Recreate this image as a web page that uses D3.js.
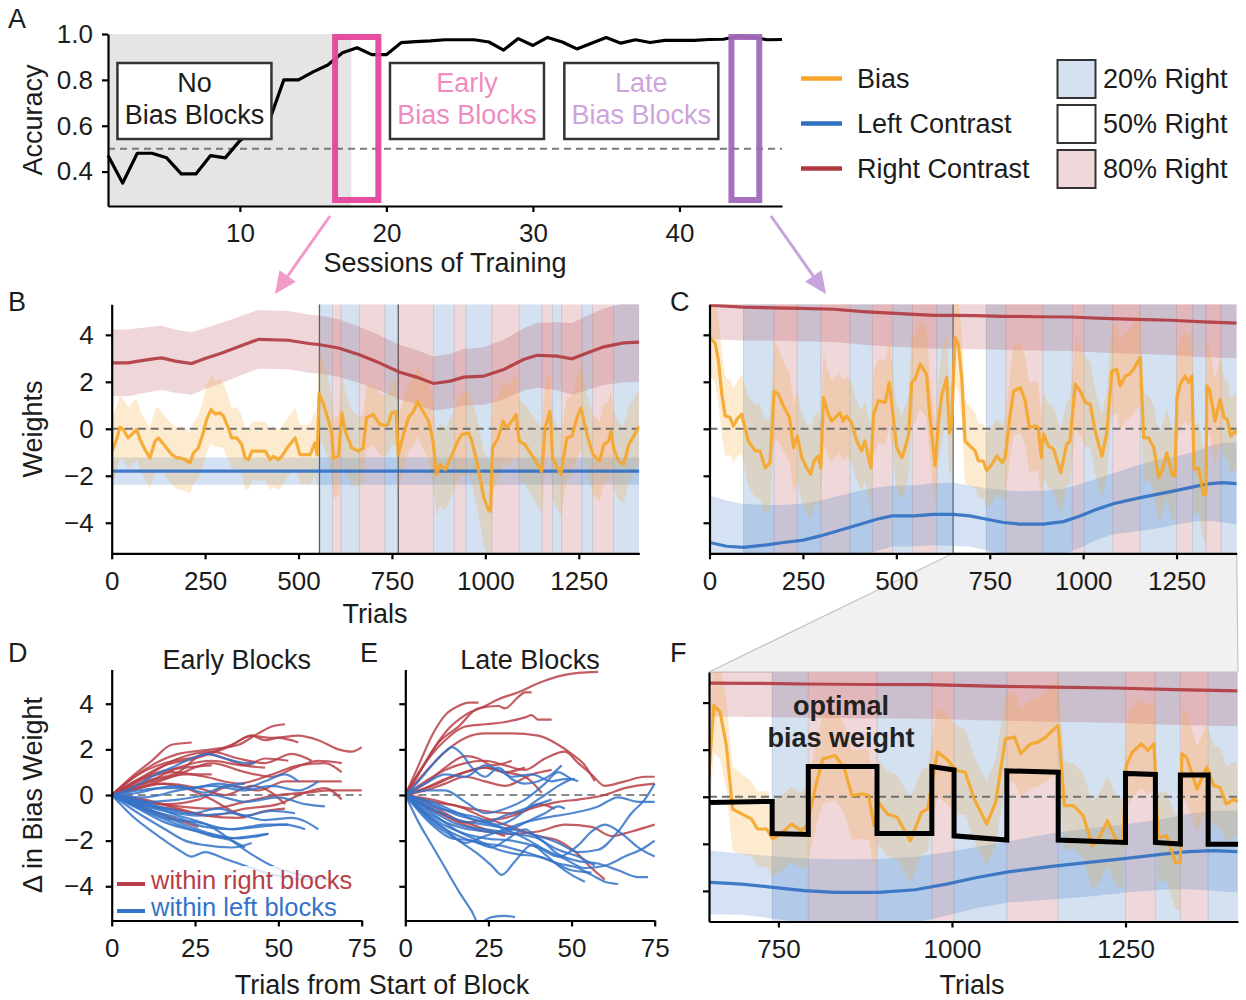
<!DOCTYPE html>
<html><head><meta charset="utf-8">
<script src="https://cdn.jsdelivr.net/npm/d3@7/dist/d3.min.js"></script>
<style>
html,body{margin:0;padding:0;background:#fff;}
svg text{font-family:"Liberation Sans",Arial,Helvetica,sans-serif;}
</style></head><body>
<svg id="chart" width="1246" height="1000"></svg>
<script>
// ================= DATA =================
// Panel A: accuracy per session
const sessions = [1,2,3,4,5,6,7,8,9,10,11,12,13,14,15,16,17,18,19,20,21,22,23,24,25,26,27,28,29,30,31,32,33,34,35,36,37,38,39,40,41,42,43,44,45,46,47];
const accuracy = [0.47,0.35,0.48,0.48,0.46,0.39,0.39,0.47,0.46,0.535,0.58,0.62,0.80,0.80,0.835,0.865,0.918,0.94,0.91,0.91,0.962,0.967,0.97,0.975,0.975,0.975,0.965,0.93,0.98,0.95,0.985,0.965,0.935,0.96,0.985,0.96,0.975,0.963,0.972,0.972,0.972,0.976,0.977,0.99,0.985,0.975,0.976];
const accTicksY = [0.4,0.6,0.8,1.0];
const accTicksX = [10,20,30,40];
const chanceLevel = 0.5;
const noBiasEnd = 17.6;
const earlyWindow = [16.5,19.45];
const lateWindow = [43.55,45.45];
const phaseLabels = [["No","Bias Blocks"],["Early","Bias Blocks"],["Late","Bias Blocks"]];
const phaseCenters = [6.9,25.5,37.4];
const lineLegend = ["Bias","Left Contrast","Right Contrast"];
const blockLegend = ["20% Right","50% Right","80% Right"];

// Panel B: weights (trial, mean, sd)
const biasB = [[0,-0.95,1.4],[13,-0.46,1.4],[22,0.07,1.35],[31,-0.03,1.3],[44,-0.39,1.3],[58,-0.17,1.35],[67,-0.03,1.3],[76,-0.46,1.25],[89,-0.88,1.25],[102,-1.24,1.3],[116,-0.53,1.35],[125,-0.39,1.3],[143,-0.74,1.25],[161,-1.1,1.3],[174,-1.24,1.3],[183,-1.24,1.35],[196,-1.31,1.35],[210,-1.45,1.3],[219,-1.02,1.3],[232,-0.81,1.35],[245,-0.17,1.4],[254,0.4,1.45],[266,0.82,1.45],[277,0.63,1.4],[290,0.68,1.45],[299,0.54,1.4],[312,0.04,1.35],[321,-0.39,1.3],[335,-0.39,1.3],[348,-0.67,1.25],[357,-1.24,1.3],[366,-1.31,1.3],[375,-0.95,1.25],[393,-0.95,1.25],[411,-0.95,1.25],[424,-1.31,1.3],[433,-1.17,1.3],[446,-1.31,1.3],[455,-1.17,1.25],[473,-0.74,1.25],[491,-0.39,1.3],[504,-1.1,1.25],[517,-1.1,1.25],[531,-1.1,1.3],[544,-0.6,1.35],[550,-1.1,1.4],[555,1.5,1.9],[566,1.08,1.8],[580,0.37,1.7],[589,-0.2,1.7],[593,-1.24,1.7],[607,-1.17,1.7],[616,0.68,1.75],[625,-0.1,1.7],[642,-0.81,1.6],[660,-0.95,1.5],[673,-0.81,1.4],[682,0.47,1.35],[700,0.61,1.3],[705,0.47,1.3],[718,0.19,1.3],[731,0.14,1.3],[740,0.19,1.3],[749,0.68,1.35],[761,0.72,1.4],[767,-1.1,1.6],[781,-0.24,1.5],[794,0.47,1.45],[808,0.75,1.45],[819,1.15,1.5],[830,0.82,1.55],[848,0.33,1.65],[860,-0.53,1.75],[869,-1.95,1.8],[879,-1.52,1.8],[893,-1.74,1.75],[911,-1.1,1.7],[926,-0.53,1.7],[937,-0.24,1.75],[955,-0.17,1.8],[964,-0.53,1.85],[978,-1.45,1.9],[996,-2.94,2.0],[1008,-3.44,2.1],[1014,-3.51,2.1],[1019,-0.81,1.9],[1034,-0.39,1.8],[1048,0.33,1.75],[1057,0.04,1.7],[1071,0.33,1.7],[1082,0.61,1.75],[1091,-0.53,1.7],[1106,-0.67,1.7],[1129,-1.24,1.75],[1151,-1.81,1.8],[1160,0.04,1.8],[1173,0.75,1.8],[1180,-1.24,1.75],[1202,-1.95,1.75],[1218,-0.39,1.7],[1232,-0.31,1.7],[1245,0.47,1.75],[1256,0.89,1.75],[1272,-0.24,1.7],[1288,-1.1,1.7],[1306,-1.38,1.7],[1317,-0.67,1.7],[1330,-0.53,1.7],[1336,-0.1,1.7],[1344,-0.88,1.65],[1357,-1.38,1.65],[1370,-1.52,1.65],[1384,-0.67,1.6],[1397,-0.31,1.6],[1412,0.11,1.6]];
const leftB = [[0,-1.8,0.58],[1412,-1.8,0.58]];
const rightB = [[0,2.81,1.42],[45,2.81,1.42],[71,2.88,1.4],[116,2.99,1.38],[134,3.02,1.37],[170,2.88,1.35],[214,2.78,1.33],[250,2.99,1.3],[295,3.23,1.28],[348,3.55,1.26],[393,3.81,1.25],[473,3.77,1.24],[527,3.63,1.24],[554,3.59,1.24],[607,3.44,1.22],[661,3.16,1.2],[706,2.88,1.18],[771,2.41,1.16],[816,2.2,1.15],[861,1.93,1.15],[906,2.03,1.17],[942,2.2,1.2],[995,2.24,1.23],[1049,2.52,1.27],[1102,2.95,1.32],[1138,3.13,1.38],[1192,3.09,1.45],[1232,2.98,1.52],[1272,3.23,1.58],[1317,3.49,1.63],[1370,3.66,1.68],[1412,3.69,1.7]];
const blocksB = [[556,591,"L"],[591,614,"R"],[614,663,"L"],[663,731,"R"],[731,767,"L"],[767,861,"R"],[861,917,"L"],[917,948,"R"],[948,1017,"L"],[1017,1091,"R"],[1091,1152,"L"],[1152,1180,"R"],[1180,1204,"L"],[1204,1259,"R"],[1259,1287,"L"],[1287,1343,"R"],[1343,1412,"L"]];
const sessionStartsB = [556,767];

// Panel C (and F): weights (trial, mean, sd)
const biasC = [[0,3.88,1.6],[15,3.66,1.7],[24,2.89,1.8],[33,1.47,1.8],[42,0.55,1.7],[55,0.48,1.6],[64,0.12,1.6],[73,0.4,1.6],[86,0.62,1.7],[95,0.05,1.8],[104,-0.52,1.9],[122,-0.94,2.0],[135,-0.94,2.0],[149,-1.66,2.0],[162,-1.44,2.0],[173,1.61,2.1],[184,1.47,2.0],[198,0.97,1.9],[214,0.48,1.9],[225,-0.8,1.9],[235,-0.31,1.9],[247,-1.23,1.9],[260,-1.66,1.9],[271,-1.94,1.9],[280,-1.37,1.9],[291,-1.16,1.9],[298,-1.66,1.9],[305,1.33,1.9],[318,0.62,1.8],[327,0.33,1.7],[341,0.55,1.7],[349,0.69,1.7],[358,0.33,1.7],[367,0.55,1.7],[380,0.26,1.7],[394,-0.52,1.7],[407,-0.94,1.7],[416,-0.52,1.7],[432,-1.66,1.8],[439,0.62,1.8],[452,1.19,1.8],[470,1.12,1.8],[481,1.97,1.9],[490,0.76,1.8],[501,-0.8,1.8],[515,-1.23,1.8],[524,-0.8,1.8],[533,-0.23,1.8],[541,1.97,1.9],[550,2.11,1.9],[564,2.75,1.9],[581,2.33,1.9],[590,0.48,1.8],[604,-1.58,1.8],[613,0.33,1.8],[622,1.47,1.9],[635,2.18,1.9],[642,-0.17,1.9],[648,0.19,1.9],[657,3.88,2.0],[666,3.6,2.0],[675,2.18,1.9],[684,-0.52,1.8],[697,-0.73,1.7],[711,-0.94,1.6],[720,-1.37,1.6],[733,-1.37,1.6],[742,-1.79,1.6],[756,-1.51,1.6],[769,-1.16,1.6],[783,-1.44,1.6],[791,-1.23,1.7],[805,0.62,1.8],[814,1.61,1.9],[832,1.75,1.9],[845,1.19,1.9],[856,0.05,1.9],[872,0.12,1.9],[880,0.05,1.9],[888,-1.23,1.8],[894,-0.23,1.8],[907,-0.73,1.8],[921,-0.87,1.8],[940,-1.87,1.8],[956,-0.66,1.8],[965,-0.52,1.8],[979,1.9,1.9],[992,1.61,1.9],[1006,1.12,1.9],[1019,1.05,1.8],[1032,-0.09,1.8],[1050,-1.16,1.8],[1063,-0.23,1.8],[1077,2.46,1.9],[1090,2.54,1.9],[1099,1.83,1.9],[1113,2.25,1.9],[1124,2.32,1.9],[1135,2.54,1.9],[1153,3.03,2.0],[1162,-0.38,1.9],[1175,-0.38,1.8],[1189,-0.8,1.8],[1202,-2.08,1.9],[1211,-1.8,1.9],[1224,-1.02,1.9],[1238,-1.94,1.9],[1246,-2.01,1.9],[1251,1.33,1.9],[1260,1.9,1.9],[1273,2.25,1.9],[1282,1.97,1.9],[1291,2.25,1.9],[1297,-1.73,1.9],[1309,-1.66,1.9],[1322,-2.79,2.0],[1329,-2.79,2.0],[1331,1.83,1.9],[1338,1.68,1.9],[1353,0.33,1.8],[1367,1.26,1.8],[1377,0.48,1.7],[1386,0.4,1.7],[1395,-0.31,1.6],[1407,-0.09,1.6],[1411,-0.23,1.6]];
const leftC = [[0,-4.84,2.0],[46,-5.0,1.95],[91,-5.05,1.85],[153,-4.94,1.7],[198,-4.84,1.6],[251,-4.74,1.55],[296,-4.56,1.5],[349,-4.32,1.48],[403,-4.06,1.42],[448,-3.85,1.35],[488,-3.71,1.3],[546,-3.71,1.3],[600,-3.64,1.32],[653,-3.64,1.35],[697,-3.71,1.3],[742,-3.85,1.32],[787,-3.99,1.38],[831,-4.06,1.4],[894,-4.06,1.42],[947,-3.95,1.4],[992,-3.71,1.35],[1036,-3.43,1.3],[1081,-3.19,1.3],[1144,-2.96,1.4],[1197,-2.79,1.45],[1251,-2.62,1.45],[1304,-2.44,1.5],[1340,-2.33,1.6],[1376,-2.29,1.7],[1411,-2.33,1.74]];
const rightC = [[0,5.26,1.45],[91,5.18,1.42],[171,5.15,1.4],[242,5.13,1.4],[332,5.09,1.4],[421,4.98,1.41],[510,4.9,1.42],[600,4.83,1.42],[653,4.83,1.42],[711,4.82,1.43],[787,4.79,1.43],[876,4.77,1.44],[965,4.76,1.45],[1054,4.7,1.46],[1144,4.66,1.47],[1233,4.62,1.48],[1322,4.55,1.5],[1411,4.5,1.5]];
const blocksC = [[91,173,"L"],[173,235,"R"],[235,298,"L"],[298,376,"R"],[376,436,"L"],[436,490,"R"],[490,543,"L"],[543,608,"R"],[608,652,"L"],[741,793,"L"],[793,892,"R"],[892,971,"L"],[971,1003,"R"],[1003,1079,"L"],[1079,1153,"R"],[1153,1250,"L"],[1250,1293,"R"],[1293,1329,"L"],[1329,1369,"R"],[1369,1412,"L"]];
const sessionStartsC = [652];
const weightTicksY = [-4,-2,0,2,4];
const trialTicks = [0,250,500,750,1000,1250];
const zoomTicks = [750,1000,1250];
// Panel F: optimal bias weight per block (start, end, value at start, value at end)
const optimalF = [[650,741,-0.24,-0.2],[741,793,-1.56,-1.6],[793,892,1.28,1.28],[892,971,-1.56,-1.56],[971,1003,1.28,1.14],[1003,1079,-1.66,-1.84],[1079,1153,1.1,1.04],[1153,1250,-1.84,-1.94],[1250,1293,0.99,0.95],[1293,1329,-1.94,-2.01],[1329,1369,0.92,0.92],[1369,1412,-2.02,-2.02]];

// Panels D/E: change in bias weight within blocks (trial from block start, delta)
const earlyRight = [
 [[0,0],[5,0.6],[12,1.3],[20,1.8],[30,2.0],[38,2.2],[44,2.7],[48,3.0],[52,3.1]],
 [[0,0],[6,0.8],[12,1.5],[18,2.2],[24,2.3]],
 [[0,0],[8,0.7],[16,1.3],[25,1.6],[35,2.1],[42,2.6],[46,2.4],[50,2.5],[56,2.3]],
 [[0,0],[8,0.9],[16,1.4],[26,1.7],[36,2.2],[42,2.6],[48,2.5],[56,2.6],[62,2.4],[68,2.0],[72,1.9],[75,2.1]],
 [[0,0],[6,0.5],[14,1.0],[22,1.2],[30,1.3]],
 [[0,0],[7,0.4],[15,0.7],[22,0.9],[30,0.9]],
 [[0,0],[10,0.5],[20,1.2],[30,1.5],[40,1.3],[46,1.6],[53,1.5]],
 [[0,0],[10,0.4],[20,0.9],[30,1.4],[40,1.0],[48,0.8],[55,1.2],[62,1.5],[69,1.4]],
 [[0,0],[8,0.6],[18,1.0],[28,0.8],[38,0.5],[48,0.9],[56,1.3],[64,1.4],[69,1.0]],
 [[0,0],[10,-0.3],[20,-0.5],[30,-0.6],[40,-0.3],[50,0.0],[58,0.1],[66,0.2],[75,0.2]],
 [[0,0],[10,-0.2],[20,-0.6],[30,-0.9],[40,-0.6],[50,-0.4],[58,0.1],[64,0.3],[69,-0.2]],
 [[0,0],[8,-0.5],[16,-0.9],[22,-1.2],[26,-1.4]],
 [[0,0],[8,0.3],[16,0.5],[26,0.3],[34,0.0],[42,0.4],[48,0.1],[52,-0.4]],
 [[0,0],[6,0.2],[14,0.5],[22,0.3],[30,-0.2],[36,-0.7],[40,-1.0]],
 [[0,0],[10,0.8],[20,1.6],[30,1.9],[38,1.6],[46,1.4],[54,1.8],[60,1.5]],
 [[0,0],[8,-0.2],[16,-0.4],[26,-0.2],[36,0.4],[44,0.2],[52,0.6],[62,0.6],[69,0.6]],
 [[0,0],[10,0.6],[20,1.0],[28,1.8],[34,1.6],[40,1.3],[46,1.2]],
 [[0,0],[8,-0.4],[18,-0.6],[28,-0.9],[38,-1.0],[46,-0.7],[52,-0.6]]
];
const earlyLeft = [
 [[0,0],[6,0.3],[12,0.8],[18,1.2],[24,1.6],[29,1.8],[34,1.6],[40,1.4],[43,1.4]],
 [[0,0],[8,0.2],[16,0.3],[24,0.3],[32,0.5],[40,0.3],[46,0.6],[52,0.9],[56,0.6]],
 [[0,0],[10,-0.1],[20,0.2],[30,0.4],[40,0.2],[48,0.4],[56,0.2],[62,0.6]],
 [[0,0],[10,-0.3],[20,-0.2],[30,0.0],[40,-0.3],[50,-0.1],[58,-0.4],[64,-0.5]],
 [[0,0],[8,-0.4],[16,-0.7],[26,-0.9],[36,-0.8],[46,-1.1],[54,-1.0],[62,-1.5]],
 [[0,0],[8,-0.5],[16,-1.0],[26,-1.2],[36,-1.5],[46,-1.3],[53,-1.3]],
 [[0,0],[8,-0.6],[16,-1.2],[26,-1.6],[36,-1.9],[42,-1.8],[47,-1.7]],
 [[0,0],[8,-0.8],[16,-1.5],[22,-2.0],[28,-2.2],[36,-2.3],[42,-2.1]],
 [[0,0],[6,-0.9],[14,-1.8],[20,-2.4],[24,-2.7],[28,-2.5],[34,-2.8],[40,-3.1],[46,-3.4],[52,-3.6],[58,-3.7],[62,-3.6]],
 [[0,0],[10,-0.4],[20,-0.9],[30,-1.4],[36,-2.0],[42,-2.6],[48,-3.1],[54,-3.4],[60,-3.6],[66,-3.7]],
 [[0,0],[8,-0.3],[16,-0.6],[24,-0.8],[32,-0.6],[40,-0.9],[48,-0.7],[55,-0.8]],
 [[0,0],[10,-0.6],[20,-1.0],[28,-1.4],[36,-1.5],[44,-1.4],[52,-1.3],[58,-1.5]],
 [[0,0],[6,-0.3],[14,-0.8],[22,-1.3],[30,-1.7],[38,-1.9],[44,-1.8],[47,-1.7]],
 [[0,0],[8,-0.2],[14,-0.5],[20,-0.7]],
 [[0,0],[8,0.1],[14,0.3],[20,0.4],[28,0.1],[34,0.4],[40,0.5]],
 [[0,0],[10,-0.7],[20,-1.3],[30,-1.8],[36,-2.0],[40,-2.3]]
];
const lateRight = [
 [[0,0],[4,0.9],[8,1.9],[13,2.9],[18,3.5],[24,3.9],[28,4.2],[34,4.5],[40,4.9],[46,5.2],[52,5.35],[58,5.4]],
 [[0,0],[4,1.3],[8,2.6],[12,3.5],[16,3.9],[19,4.05],[22,4.05]],
 [[0,0],[5,1.2],[10,2.3],[16,3.0],[22,3.8],[28,3.9],[30,3.8],[34,4.3],[36,4.5],[38,4.5]],
 [[0,0],[6,1.4],[12,2.4],[18,3.0],[24,3.1],[30,3.2],[36,3.4],[38,3.5],[40,3.3],[44,3.3]],
 [[0,0],[6,1.0],[12,1.9],[18,2.5],[24,2.7],[32,2.7],[40,2.6],[46,2.2],[50,1.8],[54,1.3],[57,0.6]],
 [[0,0],[6,0.6],[12,1.1],[18,1.4],[24,1.5],[30,1.3],[36,1.1],[42,1.6],[48,1.9],[52,1.4],[56,0.9],[60,0.4],[66,0.6],[72,0.8],[75,0.8]],
 [[0,0],[6,0.5],[12,1.2],[18,1.7],[22,1.6],[26,1.3],[32,1.5]],
 [[0,0],[6,0.3],[12,0.7],[18,1.0],[24,1.2],[30,1.0],[36,0.8],[41,0.1]],
 [[0,0],[8,-0.3],[16,-0.5],[24,-1.0],[32,-1.4],[40,-1.8],[46,-2.0],[52,-2.6],[56,-3.2],[60,-3.7]],
 [[0,0],[8,-0.6],[16,-1.2],[24,-1.6],[32,-1.7],[40,-1.6],[48,-1.3],[56,-1.4],[62,-1.8],[68,-1.6],[75,-1.3]],
 [[0,0],[8,-0.2],[16,-0.5],[24,-0.7],[32,-0.8],[40,-0.5],[46,-0.3],[52,-0.2],[60,0.0],[66,0.3],[75,0.5]],
 [[0,0],[6,0.2],[12,0.5],[18,0.8],[24,0.6],[30,0.4],[38,0.9],[44,1.1]],
 [[0,0],[6,-0.5],[12,-0.9],[20,-1.3],[26,-1.6],[30,-1.8]],
 [[0,0],[8,0.4],[16,0.9],[24,1.2],[30,1.0],[36,1.2]],
 [[0,0],[6,-0.3],[12,-0.8],[18,-1.2],[24,-1.1],[30,-1.0],[36,-0.7],[40,-0.4],[45,-0.6]]
];
const lateLeft = [
 [[0,0],[4,-1.2],[8,-2.2],[12,-3.2],[16,-4.2],[20,-5.1],[22,-5.6],[26,-5.35],[30,-5.3],[33,-5.35]],
 [[0,0],[4,0.6],[8,1.3],[12,1.9],[14,2.1],[17,1.8],[20,1.2],[24,0.8],[28,1.2],[32,0.7],[36,0.5],[40,0.6],[44,0.9],[47,1.3]],
 [[0,0],[6,0.5],[12,0.9],[18,0.8],[24,1.3],[28,1.1],[32,0.8],[38,0.9],[44,0.6],[48,0.7],[51,0.7]],
 [[0,0],[6,0.2],[12,0.2],[18,-0.3],[24,-0.8],[30,-0.6],[36,-0.2],[42,0.5],[46,1.0],[50,0.7],[52,0.6]],
 [[0,0],[8,-0.8],[16,-1.6],[22,-2.0],[28,-2.4],[34,-2.6],[40,-2.7],[46,-3.0],[52,-3.2],[56,-3.5],[60,-3.8],[64,-3.9]],
 [[0,0],[8,-1.2],[16,-2.0],[22,-2.6],[26,-3.1],[29,-3.5],[33,-2.9],[38,-2.2],[42,-2.6],[46,-3.1],[50,-3.5],[54,-3.8]],
 [[0,0],[8,-0.9],[16,-1.4],[24,-1.6],[32,-1.7],[40,-1.9],[46,-2.6],[52,-2.9],[58,-3.0],[64,-3.3],[70,-3.6],[73,-3.6]],
 [[0,0],[8,-0.6],[16,-1.1],[24,-1.3],[32,-1.5],[40,-1.8],[46,-2.1],[52,-2.5],[58,-2.4],[64,-1.6],[68,-0.8],[72,-0.2],[75,0.5]],
 [[0,0],[8,-0.7],[16,-1.3],[24,-1.5],[30,-1.6],[36,-1.2],[42,-0.8],[46,-0.5],[48,-0.6]],
 [[0,0],[8,-0.5],[16,-0.8],[22,-1.0],[28,-1.3],[34,-0.9],[38,-0.4],[42,0.0],[46,0.4],[50,0.7]],
 [[0,0],[8,-1.0],[16,-1.6],[24,-1.9],[32,-2.0],[40,-2.3],[46,-2.7],[52,-2.2],[56,-1.6],[60,-1.3],[66,-1.8],[70,-2.3],[75,-2.7]],
 [[0,0],[8,-0.4],[16,-0.9],[24,-1.2],[30,-1.5],[36,-1.9],[42,-2.4],[48,-2.8],[54,-3.2],[60,-3.1],[66,-2.7],[72,-2.3],[75,-2.0]],
 [[0,0],[8,-1.3],[14,-1.9],[20,-2.0],[26,-2.3],[30,-2.0],[36,-1.5],[40,-1.9],[46,-2.4],[52,-2.7],[57,-3.1]],
 [[0,0],[8,-0.3],[16,-0.8],[24,-1.2],[30,-0.9],[38,-0.5],[44,-0.2]],
 [[0,0],[6,-0.8],[12,-1.5],[18,-2.1],[24,-1.8],[30,-1.5],[36,-1.2],[42,-1.0],[50,-0.8],[58,-0.5],[64,-0.1],[70,-0.3],[75,-0.3]],
 [[0,0],[8,-1.1],[16,-1.8],[22,-2.1],[28,-2.2],[36,-2.5],[44,-2.9],[50,-3.3],[56,-3.4]]
];
const blockTrialTicks = [0,25,50,75];
const deltaTicks = [-4,-2,0,2,4];
const trajLegend = ["within right blocks","within left blocks"];

// ================= STYLE =================
const INK = "#1c1c1c";
const C_BIAS = "#f5a62a", C_LEFT = "#2f6fc2", C_RIGHT = "#b0393f";
const BLOCK_L = "#d4e1f1", BLOCK_R = "#efd7da";
const FS_TICK = 26, FS_LAB = 27;

const svg = d3.select("#chart");
const defs = svg.append("defs");

function text(g, x, y, s, o = {}) {
  return g.append("text").attr("x", x).attr("y", y).text(s)
    .attr("font-size", o.size || FS_LAB).attr("fill", o.fill || INK)
    .attr("text-anchor", o.anchor || "middle")
    .attr("font-weight", o.weight || "normal")
    .attr("transform", o.rotate ? `rotate(-90,${x},${y})` : null);
}
function styleAxis(sel) {
  sel.attr("font-family", null).attr("font-size", null);
  sel.select(".domain").attr("stroke", "#000").attr("stroke-width", 2.2);
  sel.selectAll(".tick line").attr("stroke", "#000").attr("stroke-width", 2.2);
  sel.selectAll(".tick text").attr("font-size", FS_TICK).attr("fill", INK);
}
function arrow(g, x1, y1, x2, y2, color) {
  const a = Math.atan2(y2 - y1, x2 - x1), L = 22, W = 10;
  const bx = x2 - L * Math.cos(a), by = y2 - L * Math.sin(a);
  g.append("line").attr("x1", x1).attr("y1", y1).attr("x2", bx).attr("y2", by)
    .attr("stroke", color).attr("stroke-width", 3);
  const px = -Math.sin(a) * W, py = Math.cos(a) * W;
  g.append("path").attr("d", `M${x2},${y2}L${bx + px},${by + py}L${bx - px},${by - py}Z`).attr("fill", color);
}
const intFmt = d3.format("d");

// ================= PANEL A =================
const xA = d3.scaleLinear().domain([1, 47]).range([108, 782]);
const yA = d3.scaleLinear().domain([0.25, 1.0]).range([206, 34]);
const gA = svg.append("g");
gA.append("rect").attr("x", xA(1)).attr("y", yA(1.0)).attr("width", xA(noBiasEnd) - xA(1))
  .attr("height", yA(0.25) - yA(1.0)).attr("fill", "#e5e5e5");
gA.append("line").attr("x1", xA(1)).attr("x2", xA(47)).attr("y1", yA(chanceLevel)).attr("y2", yA(chanceLevel))
  .attr("stroke", "#7a7a7a").attr("stroke-width", 2).attr("stroke-dasharray", "7,5");
gA.append("path").datum(sessions.map((s, i) => [s, accuracy[i]]))
  .attr("d", d3.line().x(d => xA(d[0])).y(d => yA(d[1])))
  .attr("fill", "none").attr("stroke", "#000").attr("stroke-width", 3.2).attr("stroke-linejoin", "round");
const phaseColors = [INK, "#f08bc2", "#cda4dc"];
phaseLabels.forEach((lab, i) => {
  const cx = xA(phaseCenters[i]);
  gA.append("rect").attr("x", cx - 77).attr("y", 63).attr("width", 154).attr("height", 76)
    .attr("fill", "#fff").attr("stroke", "#333").attr("stroke-width", 2.5);
  text(gA, cx, 92, lab[0], { fill: phaseColors[i] });
  text(gA, cx, 124, lab[1], { fill: phaseColors[i] });
});
[[earlyWindow, "#e5469a"], [lateWindow, "#a168bb"]].forEach(([w, c]) => {
  gA.append("rect").attr("x", xA(w[0])).attr("y", yA(1.0) + 3).attr("width", xA(w[1]) - xA(w[0]))
    .attr("height", 200 - (yA(1.0) + 3)).attr("fill", "none").attr("stroke", c).attr("stroke-width", 6).attr("opacity", 0.95);
});
styleAxis(gA.append("g").attr("transform", `translate(${xA(1)},0)`)
  .call(d3.axisLeft(yA).tickValues(accTicksY).tickFormat(d3.format(".1f")).tickSize(6).tickPadding(9).tickSizeOuter(0)));
styleAxis(gA.append("g").attr("transform", `translate(0,${yA(0.25)})`)
  .call(d3.axisBottom(xA).tickValues(accTicksX).tickFormat(intFmt).tickSize(6).tickPadding(12).tickSizeOuter(0)));
text(gA, 42, 120, "Accuracy", { rotate: true });
text(gA, 445, 272, "Sessions of Training");
text(svg, 8, 28, "A", { anchor: "start", size: 27 });
arrow(svg, 330, 216, 275, 294, "#f29bc9");
arrow(svg, 771, 216, 826, 294, "#c9a4dc");

const lg = svg.append("g");
[C_BIAS, C_LEFT, C_RIGHT].forEach((c, i) => {
  const y = 78.5 + i * 45;
  lg.append("line").attr("x1", 801).attr("x2", 842).attr("y1", y).attr("y2", y).attr("stroke", c).attr("stroke-width", 4.5);
  text(lg, 857, y + 9, lineLegend[i], { anchor: "start" });
});
[BLOCK_L, "#ffffff", BLOCK_R].forEach((c, i) => {
  const y = 60 + i * 45;
  lg.append("rect").attr("x", 1057.5).attr("y", y).attr("width", 38).attr("height", 38)
    .attr("fill", c).attr("stroke", "#333").attr("stroke-width", 2);
  text(lg, 1103, y + 28, blockLegend[i], { anchor: "start" });
});

// ================= WEIGHT PANELS =================
function weightPanel(p) {
  const g = svg.append("g");
  const [x0, x1] = p.x.range();
  const yb = p.y.range()[0], yt = p.y.range()[1];
  const id = "clip" + p.name;
  defs.append("clipPath").attr("id", id).append("rect")
    .attr("x", x0).attr("y", yt).attr("width", x1 - x0).attr("height", yb - yt);
  const gc = g.append("g").attr("clip-path", `url(#${id})`);
  gc.selectAll(null).data(p.blocks).join("rect")
    .attr("x", d => p.x(d[0])).attr("width", d => p.x(d[1]) - p.x(d[0]))
    .attr("y", yt).attr("height", yb - yt).attr("fill", d => d[2] === "L" ? BLOCK_L : BLOCK_R);
  gc.selectAll(null).data(p.blocks.map(d => d[0])).join("line")
    .attr("x1", d => p.x(d)).attr("x2", d => p.x(d)).attr("y1", yt).attr("y2", yb)
    .attr("stroke", "#55557a").attr("stroke-opacity", 0.2).attr("stroke-width", 1);
  gc.selectAll(null).data(p.sessions).join("line")
    .attr("x1", d => p.x(d)).attr("x2", d => p.x(d)).attr("y1", yt).attr("y2", yb)
    .attr("stroke", "#444").attr("stroke-opacity", 0.8).attr("stroke-width", 1.3);
  const band = d3.area().x(d => p.x(d[0])).y0(d => p.y(d[1] - d[2])).y1(d => p.y(d[1] + d[2]));
  const line = d3.line().x(d => p.x(d[0])).y(d => p.y(d[1]));
  gc.append("path").datum(p.right).attr("d", band).attr("fill", C_RIGHT).attr("fill-opacity", 0.2);
  gc.append("path").datum(p.left).attr("d", band).attr("fill", C_LEFT).attr("fill-opacity", 0.2);
  gc.append("path").datum(p.bias).attr("d", band).attr("fill", C_BIAS).attr("fill-opacity", 0.22);
  gc.append("line").attr("x1", x0).attr("x2", x1).attr("y1", p.y(0)).attr("y2", p.y(0))
    .attr("stroke", "#707070").attr("stroke-width", 2).attr("stroke-dasharray", "8,5");
  gc.append("path").datum(p.right).attr("d", line).attr("fill", "none").attr("stroke", C_RIGHT).attr("stroke-width", 3.2).attr("stroke-opacity", 0.9);
  gc.append("path").datum(p.left).attr("d", line).attr("fill", "none").attr("stroke", C_LEFT).attr("stroke-width", 3.2).attr("stroke-opacity", 0.9);
  gc.append("path").datum(p.bias).attr("d", line).attr("fill", "none").attr("stroke", C_BIAS).attr("stroke-width", 3.2).attr("stroke-opacity", 0.92).attr("stroke-linejoin", "round");
  if (p.optimal) {
    const pts = [];
    p.optimal.forEach(d => { pts.push([d[0], d[2]]); pts.push([d[1], d[3]]); });
    gc.append("path").datum(pts).attr("d", line).attr("fill", "none").attr("stroke", "#000")
      .attr("stroke-width", 5).attr("stroke-linejoin", "miter");
  }
  styleAxis(g.append("g").attr("transform", `translate(${x0},0)`)
    .call(d3.axisLeft(p.y).tickValues(weightTicksY).tickSize(6).tickPadding(12).tickSizeOuter(0)
      .tickFormat(p.yLabels ? intFmt : () => "")));
  styleAxis(g.append("g").attr("transform", `translate(0,${yb})`)
    .call(d3.axisBottom(p.x).tickValues(p.xticks).tickFormat(intFmt).tickSize(6).tickPadding(12).tickSizeOuter(0)));
  return g;
}

const yW = d3.scaleLinear().domain([-5.3, 5.3]).range([553.3, 304.3]);
const xB = d3.scaleLinear().domain([0, 1412]).range([111.7, 639.3]);
const xC = d3.scaleLinear().domain([0, 1411]).range([709.5, 1236.7]);

svg.append("path")
  .attr("d", `M${xC(652)},553.3L${xC(1411)},553.3L1238,672L709,672Z`)
  .attr("fill", "#f0f1f0").attr("stroke", "#c4c4c4").attr("stroke-width", 1.2);

weightPanel({ name: "B", x: xB, y: yW, blocks: blocksB, sessions: sessionStartsB, bias: biasB, left: leftB, right: rightB, xticks: trialTicks, yLabels: true });
weightPanel({ name: "C", x: xC, y: yW, blocks: blocksC, sessions: sessionStartsC, bias: biasC, left: leftC, right: rightC, xticks: trialTicks, yLabels: false });
text(svg, 42, 429, "Weights", { rotate: true });
text(svg, 375, 623, "Trials");
text(svg, 8, 311, "B", { anchor: "start", size: 27 });
text(svg, 670, 311, "C", { anchor: "start", size: 27 });

const xF = d3.scaleLinear().domain([650, 1412]).range([709, 1238]);
const yF = d3.scaleLinear().domain([-5.3, 5.3]).range([921.5, 672]);
const gF = weightPanel({ name: "F", x: xF, y: yF, blocks: blocksC, sessions: [], bias: biasC, left: leftC, right: rightC, xticks: zoomTicks, yLabels: false, optimal: optimalF });
text(gF, 841, 715, "optimal", { weight: "bold", fill: "#222" });
text(gF, 841, 747, "bias weight", { weight: "bold", fill: "#222" });
text(svg, 972, 994, "Trials");
text(svg, 670, 662, "F", { anchor: "start", size: 27 });

// ================= PANELS D / E =================
const yD = d3.scaleLinear().domain([-5.5, 5.5]).range([920.5, 669.5]);
function trajPanel(p) {
  const g = svg.append("g");
  const [x0, x1] = p.x.range();
  const yb = yD.range()[0], yt = yD.range()[1];
  const id = "clip" + p.name;
  defs.append("clipPath").attr("id", id).append("rect")
    .attr("x", x0).attr("y", yt).attr("width", x1 - x0 + 2).attr("height", yb - yt);
  const gc = g.append("g").attr("clip-path", `url(#${id})`);
  gc.append("line").attr("x1", x0).attr("x2", x1).attr("y1", yD(0)).attr("y2", yD(0))
    .attr("stroke", "#8a8a8a").attr("stroke-width", 2.2).attr("stroke-dasharray", "8,5");
  const line = d3.line().x(d => p.x(d[0])).y(d => yD(d[1])).curve(d3.curveMonotoneX);
  gc.selectAll(null).data(p.reds).join("path").attr("d", line).attr("fill", "none")
    .attr("stroke", "#b83f48").attr("stroke-width", 2.2).attr("stroke-opacity", 0.85);
  gc.selectAll(null).data(p.blues).join("path").attr("d", line).attr("fill", "none")
    .attr("stroke", "#3473c8").attr("stroke-width", 2.2).attr("stroke-opacity", 0.85);
  styleAxis(g.append("g").attr("transform", `translate(${x0},0)`)
    .call(d3.axisLeft(yD).tickValues(deltaTicks).tickSize(6).tickPadding(12).tickSizeOuter(0)
      .tickFormat(p.yLabels ? intFmt : () => "")));
  styleAxis(g.append("g").attr("transform", `translate(0,${yb})`)
    .call(d3.axisBottom(p.x).tickValues(blockTrialTicks).tickFormat(intFmt).tickSize(6).tickPadding(12).tickSizeOuter(0)));
  text(g, (x0 + x1) / 2, 669, p.title);
  return g;
}
const xD = d3.scaleLinear().domain([0, 75]).range([111.7, 361.7]);
const xE = d3.scaleLinear().domain([0, 75]).range([405.3, 654.7]);
const gD = trajPanel({ name: "D", x: xD, reds: earlyRight, blues: earlyLeft, yLabels: true, title: "Early Blocks" });
trajPanel({ name: "E", x: xE, reds: lateRight, blues: lateLeft, yLabels: false, title: "Late Blocks" });
// D legend (semi-transparent white box)
gD.append("rect").attr("x", 114).attr("y", 866).attr("width", 256).attr("height", 54)
  .attr("fill", "#fff").attr("fill-opacity", 0.8);
["#b83f48", "#3473c8"].forEach((c, i) => {
  const y = 884 + i * 27;
  gD.append("line").attr("x1", 117).attr("x2", 145).attr("y1", y).attr("y2", y).attr("stroke", c).attr("stroke-width", 4);
  text(gD, 151, y + 5, trajLegend[i], { anchor: "start", fill: c, size: 25.5 });
});
text(svg, 42, 795, "\u0394 in Bias Weight", { rotate: true });
text(svg, 382, 994, "Trials from Start of Block");
text(svg, 8, 662, "D", { anchor: "start", size: 27 });
text(svg, 360, 662, "E", { anchor: "start", size: 27 });
</script>
</body></html>
